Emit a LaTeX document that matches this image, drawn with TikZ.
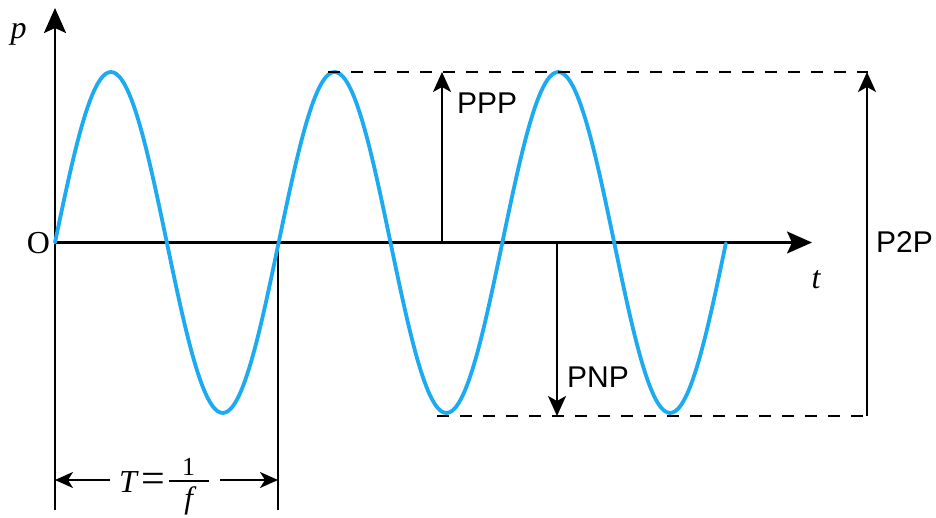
\documentclass[tikz,border=0pt]{standalone}
\usepackage{fontspec}
\setmainfont{Liberation Serif}
\newfontfamily\arialfont{Liberation Sans}
\usetikzlibrary{arrows.meta}
\definecolor{wavecol}{RGB}{28,170,240}
\begin{document}
\begin{tikzpicture}[x=1pt,y=-1pt,
  axisline/.style={line width=2.3pt, -{Stealth[length=25pt,width=22pt,inset=5pt]}},
  measline/.style={line width=2pt, -{Stealth[length=20pt,width=18pt,inset=5pt]}},
  dimline/.style={line width=2pt, -{Stealth[length=18pt,width=16pt,inset=5pt]}},
  plainline/.style={line width=2.3pt},
  guideline/.style={line width=2pt, dash pattern=on 12pt off 11pt},
  sig/.style={line width=3.8pt, draw=wavecol, line join=round, line cap=round},
  sanslabel/.style={font=\fontsize{30}{36}\selectfont\arialfont, inner sep=0pt},
  seriflabel/.style={font=\fontsize{32}{38}\selectfont, inner sep=0pt}]
\useasboundingbox (0,0) rectangle (936,518);

% key points
\coordinate (O) at (55,242.5);
\coordinate (yTop) at (55,8);
\coordinate (xEnd) at (812,242.5);
\coordinate (yBot) at (55,510);
\coordinate (Tr) at (278,242.5);
\coordinate (TrB) at (278,510);
\coordinate (pppB) at (442,242.5);
\coordinate (pppT) at (442,72);
\coordinate (pnpT) at (557,242.5);
\coordinate (pnpB) at (557,416);
\coordinate (p2pB) at (867,416);
\coordinate (p2pT) at (867,72);
\coordinate (dT1) at (328,72);
\coordinate (dT2) at (868,72);
\coordinate (dB1) at (437,416);
\coordinate (dB2) at (868,416);
\coordinate (TaL) at (55,480);
\coordinate (TaLe) at (110,480);
\coordinate (TaR) at (278,480);
\coordinate (TaRe) at (220,480);

% axes
\draw[axisline] (O) -- (yTop);
\draw[axisline] (O) -- (xEnd);
\draw[plainline] (O) -- (yBot);
\draw[plainline] (Tr) -- (TrB);

% wave
\draw[sig] plot[domain=0:3, samples=241, smooth] ({55+223.67*\x},{242.5-170.5*sin(360*\x)});

% guides
\draw[guideline] (dT1) -- (dT2);
\draw[guideline] (dB1) -- (dB2);

% measures
\draw[measline] (pppB) -- (pppT);
\draw[measline] (pnpT) -- (pnpB);
\draw[measline] (p2pB) -- (p2pT);
\draw[dimline] (TaLe) -- (TaL);
\draw[dimline] (TaRe) -- (TaR);

% labels
\node[seriflabel] (plab) at (18.5,34) {\itshape p};
\node[seriflabel] (Olab) at (38.5,243) {O};
\node[seriflabel] (tlab) at (816,280) {\itshape t};
\node[sanslabel, anchor=west] (ppplab) at (457,103) {PPP};
\node[sanslabel, anchor=west] (pnplab) at (567,377) {PNP};
\node[sanslabel, anchor=west] (p2plab) at (876,242) {P2P};
\node[seriflabel, anchor=base west] (Tlab) at (119,492)
  {\itshape T\upshape\hspace{5pt}{\fontsize{42}{42}\selectfont =}\hspace{3pt}%
   \makebox[0pt][l]{\raisebox{17pt}{\makebox[40pt]{\fontsize{26}{26}\selectfont 1}}}%
   \makebox[0pt][l]{\raisebox{10pt}{\rule{40pt}{1.8pt}}}%
   \raisebox{-16pt}{\makebox[40pt]{\fontsize{31}{31}\selectfont\itshape f}}};
\end{tikzpicture}
\end{document}
